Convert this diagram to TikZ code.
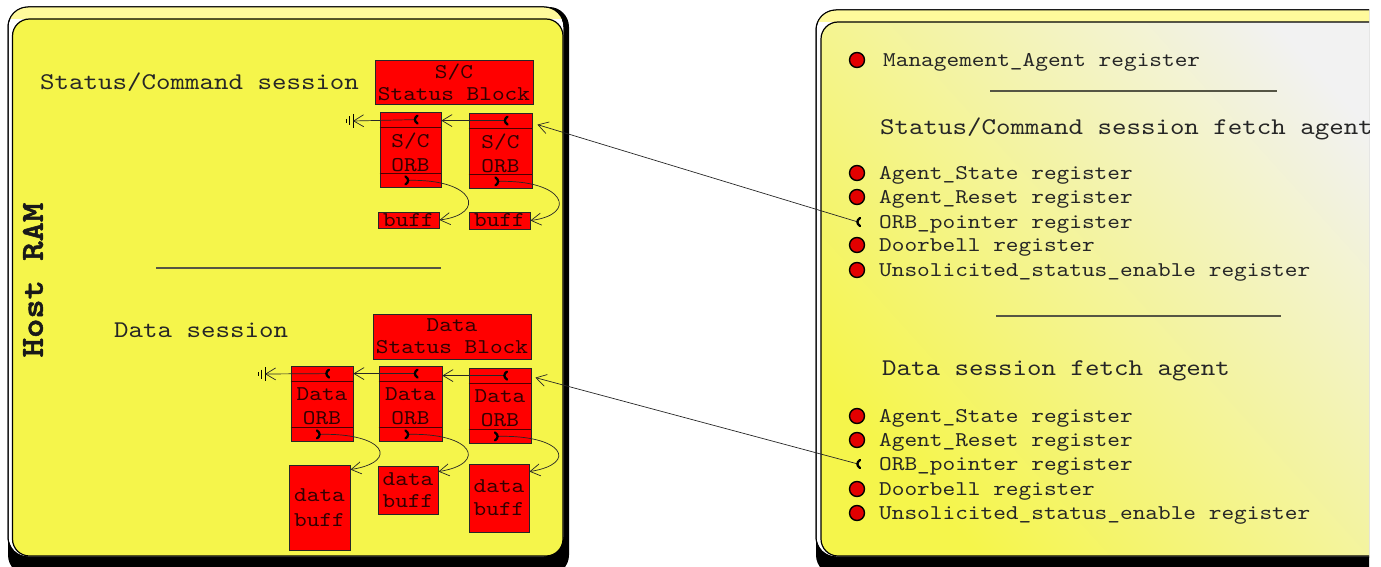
\documentclass[tikz,border=0pt]{standalone}
\usepackage{fontspec}
\newfontfamily\cour{lmmono10-regular.otf}[FakeStretch=1.15]
\newfontfamily\courb{lmmonolt10-bold.otf}[FakeStretch=1.15,FakeBold=1.6]
\usetikzlibrary{arrows.meta}
\definecolor{ramyel}{HTML}{F5F54B}
\definecolor{bandyel}{HTML}{FFFA9C}
\definecolor{boxred}{HTML}{FF0000}
\definecolor{bulred}{HTML}{E30000}
\definecolor{palegray}{HTML}{F2F2F2}
\definecolor{txtred}{HTML}{330000}
\definecolor{sepcol}{HTML}{555544}
\tikzset{
  rbox/.style={draw=black!85, line width=0.8pt, fill=boxred, inner sep=0pt, align=center, text=txtred, font=\cour\fontsize{21}{23}\selectfont},
  boxtxt/.style={inner sep=0pt, align=center, text=txtred, font=\cour\fontsize{21}{24}\selectfont},
  divline/.style={draw=black!70!red, line width=0.8pt},
  arr/.style={-{Straight Barb[length=10pt,width=12pt]}, line width=0.7pt, draw=black!85},
  sepline/.style={draw=sepcol, line width=1.2pt},
  lbl/.style={inner sep=0pt, anchor=west, text=black!85, font=\cour\fontsize{21}{23}\selectfont},
  hdr/.style={inner sep=0pt, anchor=west, text=black!85, font=\cour\fontsize{24}{26}\selectfont},
  bullet/.style={circle, fill=bulred, draw=black, line width=1.4pt, minimum size=15pt, inner sep=0pt},
  lbrk/.pic={\draw[line width=2.3pt, line cap=round] (2,-4) .. controls (-1.5,-1.5) and (-1.5,1.5) .. (2,4);},
  rbrk/.pic={\draw[line width=2.3pt, line cap=round] (-2,-4) .. controls (1.5,-1.5) and (1.5,1.5) .. (-2,4);},
  gnd/.pic={\draw[line width=0.8pt] (0,-7) -- (0,7) (-3.5,-4.5) -- (-3.5,4.5) (-7,-2) -- (-7,2);},
  panelout/.style={fill=black, rounded corners=20pt},
  panelband/.style={fill=white, draw=black, line width=1pt, rounded corners=20pt},
  panelin/.style={draw=black, line width=1.2pt, rounded corners=17pt},
}
\begin{document}
\begin{tikzpicture}[x=1pt,y=-1pt]
\useasboundingbox (0,0) rectangle (1381,567);
\begin{scope}
\clip (0,0) rectangle (1369,567);
% ---------- left panel ----------
\path[panelout] (8,7) rectangle (569,575);
\path[panelband] (8,7) rectangle (564,557);
\begin{scope}
  \clip[rounded corners=20pt] (8,7) rectangle (564,557);
  \fill[bandyel] (8,7) rectangle (564,19);
\end{scope}
\draw[black, line width=1pt, rounded corners=20pt] (8,7) rectangle (564,557);
\path[panelin, fill=ramyel] (12.5,19) rectangle (563,556);
% ---------- right panel ----------
\path[panelout] (816,10) rectangle (1440,575);
\path[panelband] (816,10) rectangle (1435,557);
\begin{scope}
  \clip[rounded corners=20pt] (816,10) rectangle (1435,557);
  \fill[bandyel] (816,10) rectangle (1435,22);
\end{scope}
\draw[black, line width=1pt, rounded corners=20pt] (816,10) rectangle (1435,557);
\shade[left color=ramyel, right color=palegray, shading angle=132, rounded corners=17pt] (821,22) rectangle (1435,556);
\draw[panelin] (821,22) rectangle (1435,556);

% ---------- left panel content ----------
\node[rotate=90, inner sep=0pt, text=black!90, font=\courb\fontsize{32}{34}\selectfont] (hostram) at (33,280) {Host RAM};
\node[hdr] (sctitle) at (40,82) {Status/Command session};
\node[hdr] (dtitle) at (114,330) {Data session};
\coordinate (sepl1) at (156,268);
\coordinate (sepl2) at (441,268);
\draw[sepline] (sepl1) -- (sepl2);

% S/C session
\node[rbox, font=\cour\fontsize{21}{22}\selectfont, minimum width=158pt, minimum height=44pt] (scsb) at (454,82) {S/C\\Status Block};
\node[rbox, minimum width=61pt, minimum height=75pt] (sco1) at (410.5,149.5) {};
\node[boxtxt] (sco1t) at (410.5,152.5) {S/C\\ORB};
\node[rbox, minimum width=63pt, minimum height=75pt] (sco2) at (500.5,150.5) {};
\node[boxtxt] (sco2t) at (500.5,153.5) {S/C\\ORB};
\node[rbox, minimum width=61pt, minimum height=16pt] (scb1) at (408.5,220) {buff};
\node[rbox, minimum width=61pt, minimum height=17pt] (scb2) at (499.5,220.5) {buff};
\foreach \n in {sco1,sco2}{
  \draw[divline] ([yshift=-16pt]\n.north west) -- ([yshift=-16pt]\n.north east);
  \draw[divline] ([yshift=14pt]\n.south west) -- ([yshift=14pt]\n.south east);
}
\coordinate (sco1top) at ([xshift=5pt,yshift=-8pt]sco1.north);
\coordinate (sco2top) at ([xshift=5pt,yshift=-8pt]sco2.north);
\coordinate (sco1bot) at ([xshift=-3pt,yshift=7pt]sco1.south);
\coordinate (sco2bot) at ([xshift=-3pt,yshift=7pt]sco2.south);
\coordinate (scgnd) at (353,121);
\pic at (scgnd) {gnd};
\draw[arr] (sco2top) -- (sco2top -| sco1.east);
\draw[arr] (sco1top) -- (scgnd);
\draw[arr] (sco1bot) .. controls +(68,-2) and +(48,-6) .. (scb1.east);
\draw[arr] (sco2bot) .. controls +(68,-2) and +(48,-6) .. (scb2.east);
\foreach \n in {sco1top,sco2top}{\pic at (\n) {lbrk};}
\foreach \n in {sco1bot,sco2bot}{\pic at (\n) {rbrk};}

% Data session
\node[rbox, font=\cour\fontsize{21}{22}\selectfont, minimum width=158pt, minimum height=45pt] (dsb) at (452,336.5) {Data\\Status Block};
\node[rbox, minimum width=62pt, minimum height=75pt] (do1) at (322,403.5) {};
\node[boxtxt] (do1t) at (322,406.5) {Data\\ORB};
\node[rbox, minimum width=63pt, minimum height=75pt] (do2) at (410.5,403.5) {};
\node[boxtxt] (do2t) at (410.5,406.5) {Data\\ORB};
\node[rbox, minimum width=62pt, minimum height=75pt] (do3) at (500,405.5) {};
\node[boxtxt] (do3t) at (500,408.5) {Data\\ORB};
\node[rbox, font=\cour\fontsize{21}{25}\selectfont, minimum width=61pt, minimum height=85pt] (db1) at (319.5,507.5) {data\\buff};
\node[rbox, font=\cour\fontsize{21}{22}\selectfont, minimum width=60pt, minimum height=48pt] (db2) at (408,490) {data\\buff};
\node[rbox, minimum width=60pt, minimum height=68pt] (db3) at (499,498) {data\\buff};
\foreach \n in {do1,do2,do3}{
  \draw[divline] ([yshift=-16pt]\n.north west) -- ([yshift=-16pt]\n.north east);
  \draw[divline] ([yshift=14pt]\n.south west) -- ([yshift=14pt]\n.south east);
}
\coordinate (do1top) at ([xshift=5pt,yshift=-8pt]do1.north);
\coordinate (do2top) at ([xshift=5pt,yshift=-8pt]do2.north);
\coordinate (do3top) at ([xshift=5pt,yshift=-8pt]do3.north);
\coordinate (do1bot) at ([xshift=-3pt,yshift=7pt]do1.south);
\coordinate (do2bot) at ([xshift=-3pt,yshift=7pt]do2.south);
\coordinate (do3bot) at ([xshift=-3pt,yshift=7pt]do3.south);
\coordinate (dgnd) at (265,374);
\pic at (dgnd) {gnd};
\draw[arr] (do3top) -- (do3top -| do2.east);
\draw[arr] (do2top) -- (do2top -| do1.east);
\draw[arr] (do1top) -- (dgnd);
\draw[arr] (do1bot) .. controls +(66,-2) and +(50,-8) .. ([yshift=-5pt]db1.north east);
\draw[arr] (do2bot) .. controls +(66,-2) and +(50,-8) .. ([yshift=-6pt]db2.north east);
\draw[arr] (do3bot) .. controls +(66,-2) and +(50,-8) .. ([yshift=-8pt]db3.north east);
\foreach \n in {do1top,do2top,do3top}{\pic at (\n) {lbrk};}
\foreach \n in {do1bot,do2bot,do3bot}{\pic at (\n) {rbrk};}

% ---------- right panel content ----------
\node[bullet] (bmgmt) at (857,60) {};
\node[lbl] (tmgmt) at (883,62) {Management\_Agent register};
\coordinate (sepr1a) at (990,91);
\coordinate (sepr1b) at (1277,91);
\draw[sepline] (sepr1a) -- (sepr1b);
\node[hdr] (hsc) at (880,129) {Status/Command session fetch agent};
\node[bullet] (bsc1) at (857,173) {};
\node[lbl] (tsc1) at (879,175) {Agent\_State register};
\node[bullet] (bsc2) at (857,197) {};
\node[lbl] (tsc2) at (879,199) {Agent\_Reset register};
\coordinate (scptr) at (858,222);
\node[lbl] (tsc3) at (879,224) {ORB\_pointer register};
\node[bullet] (bsc4) at (857,245) {};
\node[lbl] (tsc4) at (879,247) {Doorbell register};
\node[bullet] (bsc5) at (857,270) {};
\node[lbl] (tsc5) at (879,272) {Unsolicited\_status\_enable register};
\coordinate (sepr2a) at (996,316);
\coordinate (sepr2b) at (1281,316);
\draw[sepline] (sepr2a) -- (sepr2b);
\node[hdr] (hd) at (882,371) {Data session fetch agent};
\node[bullet] (bd1) at (857,416) {};
\node[lbl] (td1) at (879,418) {Agent\_State register};
\node[bullet] (bd2) at (857,440) {};
\node[lbl] (td2) at (879,442) {Agent\_Reset register};
\coordinate (dptr) at (858,464);
\node[lbl] (td3) at (879,466) {ORB\_pointer register};
\node[bullet] (bd4) at (857,489) {};
\node[lbl] (td4) at (879,491) {Doorbell register};
\node[bullet] (bd5) at (857,513) {};
\node[lbl] (td5) at (879,515) {Unsolicited\_status\_enable register};

% ---------- pointer connectors ----------
\draw[arr] (scptr) -- ([xshift=5pt,yshift=-12pt]sco2.north east);
\draw[arr] (dptr) -- ([xshift=4pt,yshift=-10pt]do3.north east);
\pic at (scptr) {lbrk};
\pic at (dptr) {lbrk};
\end{scope}
\end{tikzpicture}
\end{document}
